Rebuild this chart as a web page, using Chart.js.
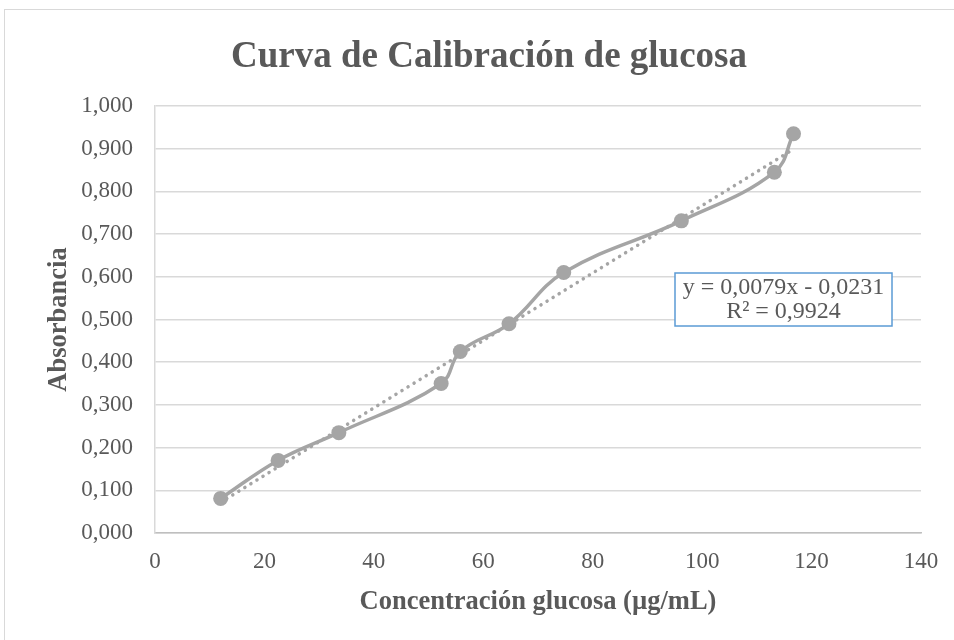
<!DOCTYPE html>
<html>
<head>
<meta charset="utf-8">
<script src="https://cdn.jsdelivr.net/npm/chart.js@4"></script>
<style>
  html, body { margin: 0; padding: 0; overflow: hidden; background: #ffffff; }
  #frame {
    position: absolute; left: 4px; top: 9px;
    width: 968px; height: 650px;
    border: 1px solid #d9d9d9; background: #ffffff;
  }
</style>
</head>
<body>
<div id="frame"><canvas id="chart" width="968" height="650"></canvas></div>
<script>
  // datos de la curva
  const concentracion = [12, 22.5, 33.6, 52.3, 55.8, 64.7, 74.7, 96.2, 113.2, 116.7];
  const absorbancia = [0.081, 0.170, 0.235, 0.350, 0.425, 0.490, 0.610, 0.731, 0.845, 0.935];

  // linea de tendencia (Excel)
  const pendiente = 0.0079;
  const intercepto = -0.0231;
  const ecuacion = ["y = 0,0079x - 0,0231", "R² = 0,9924"];

  const xTicks = [0, 20, 40, 60, 80, 100, 120, 140];
  const yTickLabels = ["0,000", "0,100", "0,200", "0,300", "0,400", "0,500",
                       "0,600", "0,700", "0,800", "0,900", "1,000"];

  const gris = "#a5a5a5";
  const texto = "#595959";
  const serif = "'Liberation Serif', 'Times New Roman', serif";

  const puntos = concentracion.map((x, i) => ({ x: x, y: absorbancia[i] }));
  const xMin = Math.min(...concentracion);
  const xMax = Math.max(...concentracion);
  const tendencia = [xMin, xMax].map(x => ({ x: x, y: pendiente * x + intercepto }));

  // cuadro con la ecuacion
  const cuadroEcuacion = {
    id: "cuadroEcuacion",
    afterDraw(chart) {
      const ctx = chart.ctx;
      const a = chart.chartArea;
      const left = a.left + 520, top = a.top + 167, w = 217, h = 53;
      ctx.save();
      ctx.fillStyle = "#ffffff";
      ctx.fillRect(left, top, w, h);
      ctx.strokeStyle = "#5b9bd5";
      ctx.lineWidth = 1.5;
      ctx.strokeRect(left, top, w, h);
      ctx.fillStyle = texto;
      ctx.font = "24px " + serif;
      ctx.textAlign = "center";
      ctx.textBaseline = "middle";
      ctx.fillText(ecuacion[0], left + w / 2, top + 15);
      ctx.fillText(ecuacion[1], left + w / 2, top + 39);
      ctx.restore();
    }
  };

  new Chart(document.getElementById("chart"), {
    type: "scatter",
    data: {
      datasets: [
        {
          data: tendencia,
          showLine: true,
          borderColor: gris,
          borderWidth: 3.5,
          borderDash: [0.1, 7],
          borderCapStyle: "round",
          pointRadius: 0,
          order: 2
        },
        {
          data: puntos,
          showLine: true,
          tension: 0.4,
          borderColor: gris,
          borderWidth: 3.5,
          pointRadius: 7.5,
          pointBackgroundColor: gris,
          pointBorderWidth: 0,
          order: 1
        }
      ]
    },
    options: {
      responsive: false,
      animation: false,
      layout: { padding: { top: 0, left: 52, right: 52, bottom: 0 } },
      plugins: {
        legend: { display: false },
        tooltip: { enabled: false },
        title: {
          display: true,
          text: "Curva de Calibración de glucosa",
          color: texto,
          font: { family: serif, size: 37, weight: "bold", lineHeight: 1.2 },
          padding: { top: 25, bottom: 26.6 }
        }
      },
      scales: {
        x: {
          type: "linear",
          min: 0,
          max: 140,
          afterFit(scale) { scale.height = 127; },
          afterBuildTicks(scale) { scale.ticks = xTicks.map(v => ({ value: v })); },
          grid: { display: false, drawTicks: false },
          border: { display: true, color: "#bfbfbf", width: 1.5 },
          ticks: { color: texto, padding: 15, font: { family: serif, size: 23 } },
          title: {
            display: true,
            text: "Concentración glucosa (µg/mL)",
            color: texto,
            font: { family: serif, size: 26.5, weight: "bold", lineHeight: 1.2 },
            padding: { top: 0, bottom: 42 }
          }
        },
        y: {
          type: "linear",
          min: 0,
          max: 1,
          afterFit(scale) { scale.width = 98; },
          grid: { color: "#d9d9d9", lineWidth: 1.5, drawTicks: false },
          border: { display: true, color: "#d9d9d9", width: 1.5 },
          ticks: {
            stepSize: 0.1,
            color: texto,
            padding: 22,
            font: { family: serif, size: 23 },
            callback: (v, i) => yTickLabels[i]
          },
          title: {
            display: true,
            text: "Absorbancia",
            color: texto,
            font: { family: serif, size: 26.5, weight: "bold", lineHeight: 1.2 },
            padding: { top: -14, bottom: 0 }
          }
        }
      }
    },
    plugins: [cuadroEcuacion]
  });
</script>
</body>
</html>
